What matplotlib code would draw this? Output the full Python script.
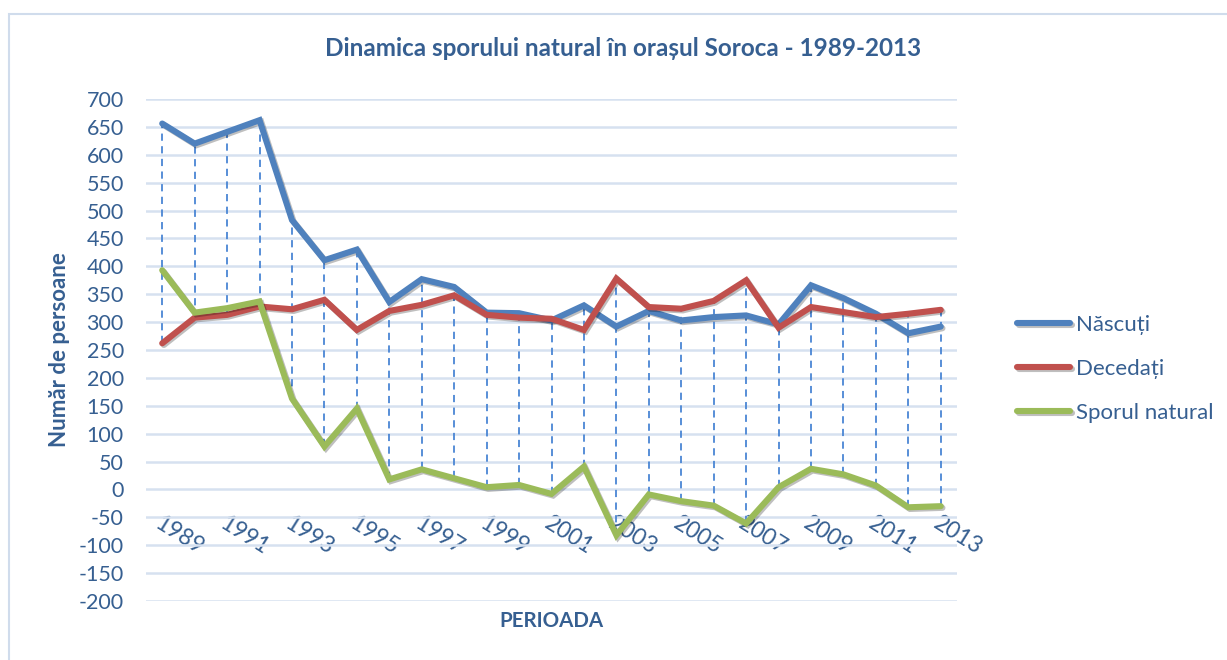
import matplotlib
matplotlib.use("Agg")
import matplotlib.pyplot as plt
import matplotlib.patheffects as pe
import numpy as np

# -------------------------
# Data
# -------------------------
years = list(range(1989, 2014))
nascuti = [656, 620, 641, 662, 483, 411, 430, 336, 377, 363, 317, 316, 303,
           330, 292, 320, 303, 309, 312, 296, 366, 343, 315, 280, 292]
decedati = [262, 308, 313, 328, 323, 340, 286, 320, 331, 348, 313, 308, 306,
            286, 378, 327, 324, 338, 375, 290, 327, 318, 309, 315, 322]
sporul = [393, 317, 325, 337, 163, 77, 145, 18, 36, 20, 4, 8, -8,
          41, -82, -9, -21, -29, -61, 4, 37, 27, 7, -32, -30]

series_names = ["Născuți", "Decedați", "Sporul natural"]
series_colors = ["#4F81BD", "#C0504D", "#9BBB59"]

TEXT = "#365F91"
GRID = "#D6E1F0"

plt.rcParams["font.family"] = ["Lato", "DejaVu Sans"]
plt.rcParams["axes.unicode_minus"] = False

fig = plt.figure(figsize=(12.27, 6.60), dpi=100)
ax = fig.add_axes([146 / 1227, 1 - 601 / 660, (957 - 146) / 1227, (601 - 99) / 660])

x = np.arange(len(years))

# high-low lines
hi = np.max([nascuti, decedati, sporul], axis=0)
lo = np.min([nascuti, decedati, sporul], axis=0)
ax.vlines(x, lo, hi, colors="#4A86D4", linestyles=(0, (4, 3)), linewidth=1.3, zorder=2)

shadow = [pe.SimpleLineShadow(offset=(1.2, -1.2), alpha=0.25), pe.Normal()]
for vals, name, col in zip([nascuti, decedati, sporul], series_names, series_colors):
    ax.plot(x, vals, color=col, linewidth=4.4, label=name, zorder=3,
            solid_capstyle="round", solid_joinstyle="miter", path_effects=shadow)

# axes styling
ax.set_xlim(-0.5, len(years) - 0.5)
ax.set_ylim(-200, 700)
ax.set_yticks(np.arange(-200, 701, 50))
ax.yaxis.grid(True, color=GRID, linewidth=1.8)
ax.set_axisbelow(True)
for s in ["top", "right", "left"]:
    ax.spines[s].set_visible(False)
ax.spines["bottom"].set_position(("data", 0))
ax.spines["bottom"].set_visible(False)

ax.set_xticks(x[::2])
ax.set_xticklabels([str(y) for y in years[::2]], rotation=-32, ha="left",
                   rotation_mode="anchor")
ax.tick_params(axis="x", length=0, pad=17, labelsize=16.5, labelcolor=TEXT)
ax.tick_params(axis="y", length=0, pad=16, labelsize=15.5, labelcolor=TEXT)

fig.text(59 / 1227, 1 - 350 / 660, "Număr de persoane", fontsize=16, fontweight="bold",
         color=TEXT, ha="center", va="center", rotation=90)
fig.text(551 / 1227, 1 - 621 / 660, "PERIOADA", fontsize=14.8, fontweight="bold",
         color=TEXT, ha="center", va="center")
fig.text(623 / 1227, 1 - 48 / 660, "Dinamica sporului natural în orașul Soroca - 1989-2013",
         fontsize=17.5, fontweight="bold", color=TEXT, ha="center", va="center")

leg = ax.legend(loc="center left", bbox_to_anchor=(1.074, 0.462), frameon=False,
                fontsize=16, handlelength=2.4, handletextpad=0.27, labelspacing=1.08,
                borderpad=0, borderaxespad=0, labelcolor=TEXT)
for line in leg.get_lines():
    line.set_linewidth(4.4)
    line.set_solid_capstyle("round")

# outer frame
fig.add_artist(plt.Rectangle((9 / 1227, -0.05), 1.2, 1 - 14 / 660 + 0.05,
                             transform=fig.transFigure, fill=False,
                             edgecolor="#D0DCEC", linewidth=1.5))

fig.savefig("out.png", dpi=100, facecolor="white")
